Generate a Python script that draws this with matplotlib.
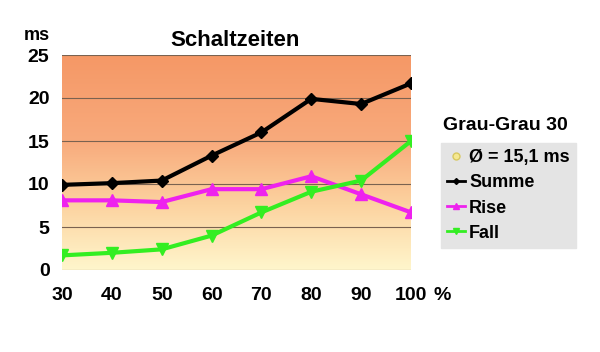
import numpy as np
import matplotlib.pyplot as plt
from matplotlib.colors import LinearSegmentedColormap
from matplotlib.lines import Line2D

plt.rcParams['font.family'] = ['Liberation Sans', 'DejaVu Sans']
plt.rcParams['font.weight'] = 'bold'

# Data
load = [30, 40, 50, 60, 70, 80, 90, 100]
summe = [9.9, 10.1, 10.4, 13.3, 16.0, 19.9, 19.3, 21.7]
rise = [8.1, 8.1, 7.9, 9.4, 9.4, 10.9, 8.8, 6.7]
fall = [1.7, 2.0, 2.4, 4.0, 6.7, 9.1, 10.4, 15.0]
y_ticks = [0, 5, 10, 15, 20, 25]
avg_label = 'Ø = 15,1 ms'

fig = plt.figure(figsize=(6, 3.52), dpi=100)
ax = fig.add_axes([62 / 600, 1 - 270 / 352, 349 / 600, 215 / 352])

# gradient background: light yellow at bottom, orange at top
cmap = LinearSegmentedColormap.from_list(
    'bg', [(0.0, '#fff6cc'), (0.3, '#fcd3a0'), (0.6, '#f8aa7c'), (1.0, '#f59866')])
grad = np.linspace(0, 1, 256).reshape(-1, 1)
ax.imshow(grad, aspect='auto', cmap=cmap, origin='lower',
          extent=[30, 100, 0, 25], zorder=0)

for t in y_ticks:
    ax.axhline(t, color='#7a6250', lw=0.8, zorder=1)

ax.plot(load, summe, color='black', lw=3, marker='D', ms=6, zorder=3)
ax.plot(load, rise, color='#ee22ee', lw=3, marker='^', ms=8, zorder=3)
ax.plot(load, fall, color='#33ee22', lw=3, marker='v', ms=8, zorder=3)

ax.set_xlim(30, 100)
ax.set_ylim(0, 25)
ax.set_xticks(load)
ax.set_xticklabels([str(v) for v in load])
ax.set_yticks(y_ticks)
ax.tick_params(axis='y', length=0, labelsize=14, pad=9)
ax.tick_params(axis='x', length=0, labelsize=14, pad=12)
for lbl in ax.get_xticklabels() + ax.get_yticklabels():
    lbl.set_fontweight('bold')
for s in ax.spines.values():
    s.set_visible(False)

fig.text(433 / 600, 1 - 295 / 352, '%', fontsize=14, fontweight='bold',
         ha='left', va='center')
fig.text(235 / 600, 1 - 41 / 352, 'Schaltzeiten', fontsize=16, fontweight='bold',
         ha='center', va='center')
fig.text(37 / 600, 1 - 36 / 352, 'ms', fontsize=13, fontweight='bold',
         ha='center', va='center')

handles = [
    Line2D([], [], ls='none', marker='o', ms=5, mfc='#f5e890', mec='#d8c860'),
    Line2D([], [], color='black', lw=2, marker='D', ms=3),
    Line2D([], [], color='#ee22ee', lw=2, marker='^', ms=5),
    Line2D([], [], color='#33ee22', lw=2, marker='v', ms=5),
]
leg = fig.legend(handles, [avg_label, 'Summe', 'Rise', 'Fall'],
                 loc='upper left', bbox_to_anchor=(441 / 600, 1 - 143 / 352),
                 frameon=True, fancybox=False, handlelength=1.0,
                 handletextpad=0.2, borderpad=0.35, borderaxespad=0,
                 labelspacing=0.45, prop={'size': 13, 'weight': 'bold'})
leg.get_frame().set_facecolor('#e4e4e4')
leg.get_frame().set_edgecolor('#e4e4e4')
leg.get_frame().set_alpha(1)
fig.text(505 / 600, 1 - 126 / 352, 'Grau-Grau 30', fontsize=14, fontweight='bold',
         ha='center', va='center')

fig.savefig('out.png', dpi=100)
